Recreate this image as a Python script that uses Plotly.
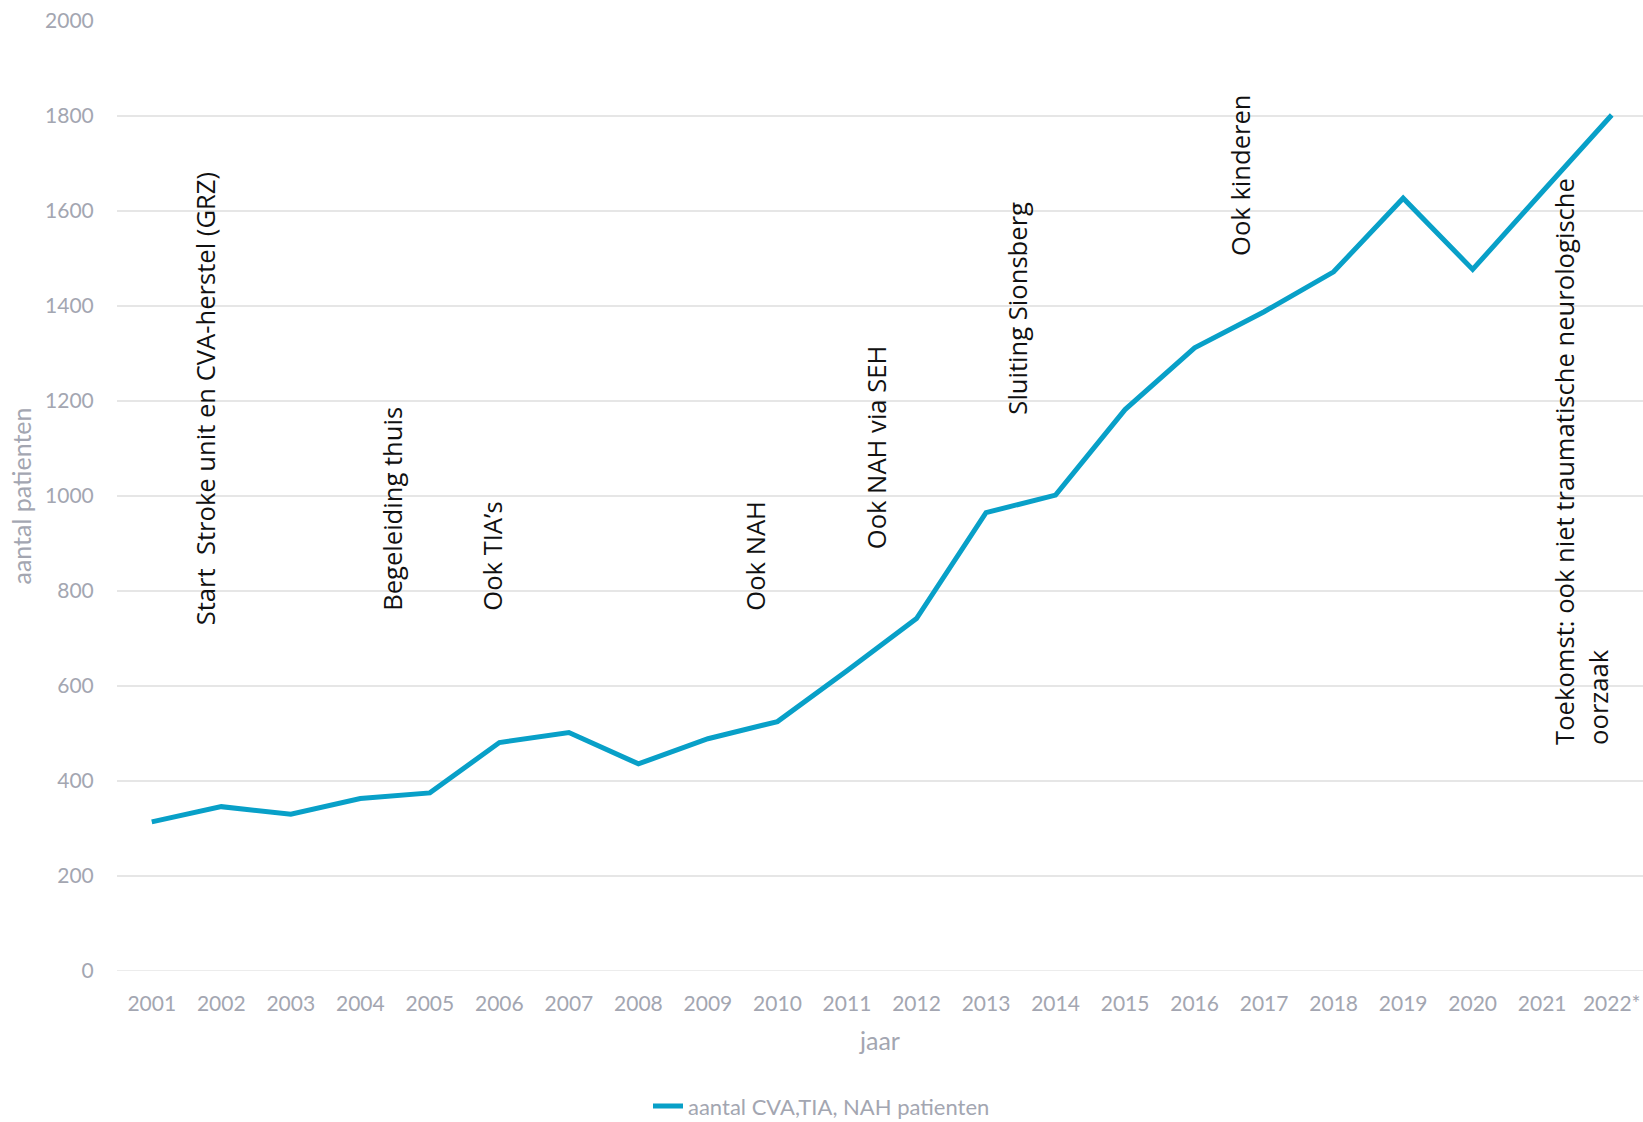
import plotly.graph_objects as go

# Patient counts per year (2022 is a forecast, marked with *)
years = list(range(2001, 2023))
year_labels = [str(y) for y in range(2001, 2022)] + ["2022*"]
patients = [314, 346, 330, 363, 375, 481, 502, 436, 489, 525, 632, 742,
            965, 1002, 1182, 1312, 1388, 1472, 1627, 1477, 1640, 1802]

# Milestones written along the line
milestone_text = [
    "Start\u00a0 Stroke unit en CVA-herstel (GRZ)",
    "Begeleiding thuis",
    "Ook TIA\u2019s",
    "Ook NAH",
    "Ook NAH via SEH",
    "Sluiting Sionsberg",
    "Ook kinderen",
    "Toekomst: ook niet traumatische neurologische<br>oorzaak",
]
milestone_x = [2001.77, 2004.47, 2005.90, 2009.69, 2011.42, 2013.46, 2016.66, 2021.56]
milestone_y = [723, 754, 754, 754, 884, 1166, 1502, 471]

LINE_COLOR = "#08a0c8"
AXIS_GREY = "#a3a6b1"
GRID = "#e6e6e6"

fig = go.Figure()
fig.add_trace(go.Scatter(
    x=years, y=patients, mode="lines",
    name="aantal CVA,TIA, NAH patienten",
    line=dict(color=LINE_COLOR, width=5),
))

for txt, x, y in zip(milestone_text, milestone_x, milestone_y):
    fig.add_annotation(
        x=x, y=y, xref="x", yref="y", text=txt, showarrow=False,
        textangle=-90, xanchor="center", yanchor="bottom", align="left",
        font=dict(family="Open Sans", size=25.6, color="#111111"),
    )

fig.update_layout(
    width=1643, height=1122,
    margin=dict(l=117, r=0, t=21, b=151, autoexpand=False),
    paper_bgcolor="white", plot_bgcolor="white",
    font=dict(family="Lato", size=21, color=AXIS_GREY),
    showlegend=True,
    legend=dict(
        orientation="h", xref="container", yref="container",
        x=0.5, xanchor="center", y=0.014, yanchor="middle",
        font=dict(family="Lato", size=22, color=AXIS_GREY),
    ),
)

fig.update_xaxes(
    range=[2000.5, 2022.45],
    tickmode="array", tickvals=years, ticktext=year_labels, tickangle=0,
    showgrid=False, zeroline=False, showline=False,
    ticks="outside", ticklen=14, tickcolor="rgba(0,0,0,0)",
    title=dict(text="jaar", standoff=18, font=dict(size=25, color=AXIS_GREY)),
)
fig.update_yaxes(
    range=[0, 2000], tickmode="linear", tick0=0, dtick=200,
    showgrid=True, gridcolor=GRID, gridwidth=1.5,
    zeroline=False, showline=False,
    ticks="outside", ticklen=18, tickcolor="rgba(0,0,0,0)",
    title=dict(text="aantal patienten", standoff=6, font=dict(size=25, color=AXIS_GREY)),
)
# the zero line drawn as a gridline too
fig.add_hline(y=0, line=dict(color=GRID, width=1.5), layer="below")

fig.write_html("out.html")
